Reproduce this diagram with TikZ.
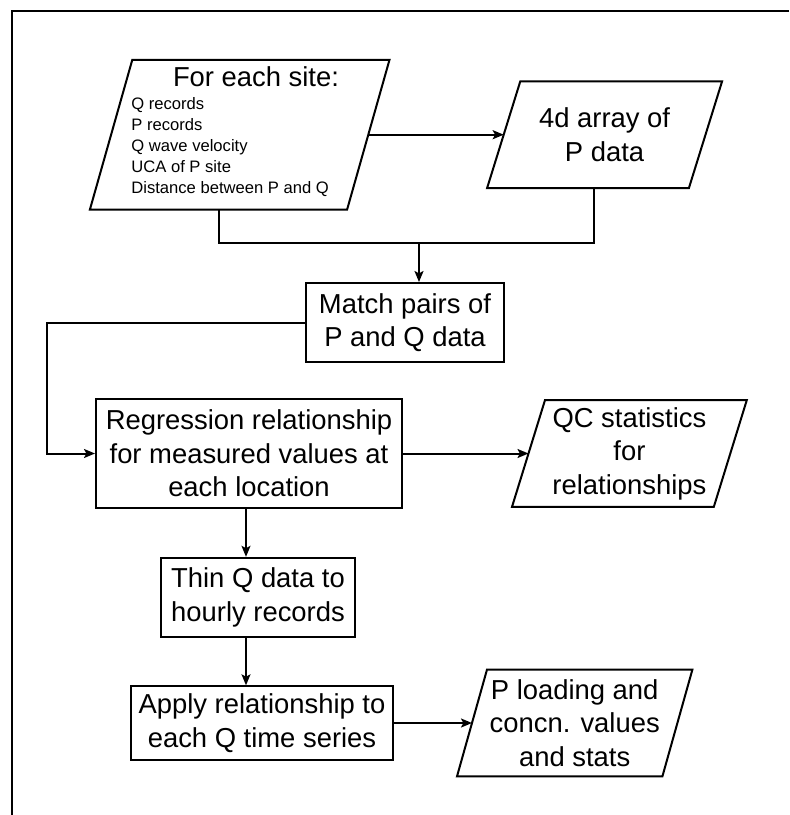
\documentclass[tikz,border=0pt]{standalone}
\usepackage{fontspec}
\setmainfont{Liberation Sans}
\usetikzlibrary{arrows.meta,positioning}

\begin{document}
\begin{tikzpicture}[x=0.5pt, y=-0.5pt,
    >={Stealth[length=5.5pt,width=4.5pt,inset=1.2pt]},
    process/.style={rectangle, draw=black, line width=1pt, align=center, inner sep=0pt, font=\fontsize{13.7}{16.75}\selectfont},
    data/.style={rectangle, align=center, inner sep=0pt, font=\fontsize{13.7}{16.75}\selectfont},
    iobox/.style={draw=black, line width=1pt, line join=miter},
    flow/.style={draw=black, line width=1pt},
    thinflow/.style={draw=black, line width=0.65pt}]
    \useasboundingbox (0,0) rectangle (789,815);
    \draw[line width=1pt] (789,10.7) -- (12.3,10.7) -- (12.3,815);

    \node (Site) [data, minimum width=128.2pt, minimum height=74.5pt] at (239.7,134.7) {};
    \node (SiteTitle) [data] at (256,77) {For each site:};
    \node (SiteList) [data, anchor=west, align=left, font=\fontsize{8.3}{10.5}\selectfont] at (131,147) {
        Q records\\P records\\Q wave velocity\\UCA of P site\\Distance between P and Q
    };

    \node (Array) [data, minimum width=100.5pt, minimum height=53pt, right=67.7pt of Site] {
        4d array of\\P data
    };

    \node (Match) [process, minimum width=99pt, minimum height=39.5pt] at (405,322.5) {
        Match pairs of\\P and Q data
    };

    \node (Regression) [process, minimum width=153pt, minimum height=54.5pt] at (249,453.5) {
        Regression relationship\\for measured values at\\each location
    };

    \node (QC) [data, minimum width=100.5pt, minimum height=53pt, right=62.75pt of Regression] {
        QC statistics\\for\\relationships
    };

    \node (Thin) [process, minimum width=97pt, minimum height=39.5pt] at (258,597.3) {
        Thin Q data to\\hourly records
    };

    \node (Apply) [process, minimum width=131pt, minimum height=36.7pt] at (262,723) {
        Apply relationship to\\each Q time series
    };

    \node (Result) [data, minimum width=102.3pt, minimum height=53pt, right=39pt of Apply] {
        P loading and\\concn. values\\and stats
    };

    % slanted outlines of the data boxes
    \foreach \n/\s in {Site/10.6pt, Array/8.3pt, QC/8.25pt, Result/7.5pt}
        \draw[iobox] ([xshift=-\s]\n.south west) -- ([xshift=\s]\n.north west)
            -- ([xshift=\s]\n.north east) -- ([xshift=-\s]\n.south east) -- cycle;

    % connectors
    \coordinate (join) at (419,243);
    \coordinate (spine) at (246,0);
    \draw[flow, ->] (Site) -- (Array);
    \draw[flow] ([xshift=-10.35pt]Site.south) |- (join) -| ([xshift=-5.4pt]Array.south);
    \draw[flow, ->] (join) -- (join |- Match.north);
    \draw[flow, ->] (Match.west) -| ([xshift=-24pt]Regression.west) -- (Regression.west);
    \draw[flow, ->] (Regression) -- (QC);
    \draw[thinflow, ->] (Regression.south -| spine) -- (Thin.north -| spine);
    \draw[thinflow, ->] (Thin.south -| spine) -- (Apply.north -| spine);
    \draw[flow, ->] (Apply) -- (Result);
\end{tikzpicture}
\end{document}
